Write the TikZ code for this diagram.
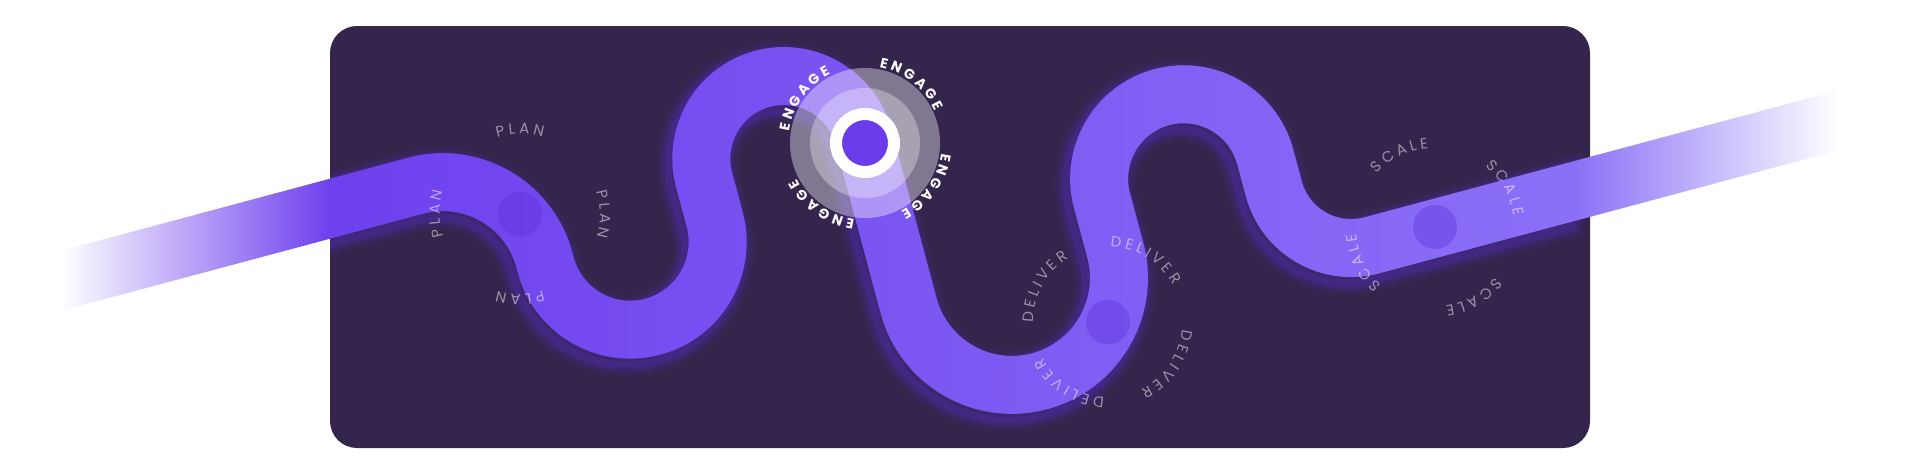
\documentclass[tikz,border=0pt]{standalone}
\usepackage{fontspec}
\setmainfont{Poppins}
\newfontfamily\tagfont{Poppins}
\usetikzlibrary{decorations.text}
\newcommand\plainlbl{\tagfont\fontsize{15}{17}\selectfont}
\newcommand\boldlbl{\tagfont\bfseries\fontsize{14}{16}\selectfont}
\newcommand\lgap{\kern3.5pt}
\newcommand\egap{\kern3.2pt}
\definecolor{panelc}{HTML}{33254C}
\definecolor{bandl}{HTML}{6E40EE}
\definecolor{bandm}{HTML}{7D5BF3}
\definecolor{bandr}{HTML}{8B70F7}
\definecolor{glowc}{HTML}{5B30D6}
\definecolor{dotc}{HTML}{5A2CD8}
\definecolor{engdot}{HTML}{6A3BE9}
\tikzset{
  stopdot/.style={circle, fill=dotc, fill opacity=.35, minimum size=44, inner sep=0},
  tagpath/.style={decorate, decoration={text along path, text align=center, text color=white}},
}
\begin{document}
\begin{tikzpicture}[x=1pt, y=1pt]
  \useasboundingbox (0,0) rectangle (1920,-475);
  % outline of the road, in a frame turned by 15 degrees round the engage point
  \def\bandpath{(-526,104) -- (-445,104) arc[start angle=90, end angle=0, radius=134]
    -- (-311,-35) arc[start angle=180, end angle=360, radius=58.5]
    -- (-194,6) arc[start angle=180, end angle=0, radius=111.5]
    -- (29,-168.3) arc[start angle=180, end angle=360, radius=78]
    -- (185,-117) arc[start angle=180, end angle=0, radius=113.5]
    -- (412,-150) arc[start angle=180, end angle=270, radius=51]
    -- (682.2,-201) -- (666.6,-259) -- (463,-259) arc[start angle=270, end angle=180, radius=109]
    -- (354,-117) arc[start angle=0, end angle=180, radius=55.5]
    -- (243,-168.3) arc[start angle=360, end angle=180, radius=136]
    -- (-29,6) arc[start angle=0, end angle=180, radius=53.5]
    -- (-136,-35) arc[start angle=360, end angle=180, radius=116.5]
    -- (-369,-30) arc[start angle=0, end angle=90, radius=76]
    -- (-541.5,46) -- cycle}
  \fill[panelc, rounded corners=27] (330,-26) rectangle (1590,-448);
  % glow
  \begin{scope}
    \clip[rounded corners=27] (330,-26) rectangle (1590,-448);
    \begin{scope}[shift={(861,-149)}, rotate=15]
      \foreach \w/\o in {22/.10, 14/.15, 7/.22}
        \draw[glowc, line width=\w, opacity=\o] \bandpath;
    \end{scope}
  \end{scope}
  % road and its faded ends
  \begin{scope}[shift={(865,-143)}, rotate=15]
    \shade[left color=white, middle color=bandl!30!white, right color=bandl]
      (-805.5,104) -- (-526,104) -- (-541.5,46) -- (-821,46) -- cycle;
    \shade[left color=bandr, middle color=bandr!35!white, right color=white]
      (682.2,-201) -- (955.4,-201) -- (939.9,-259) -- (666.6,-259) -- cycle;
    \shade[left color=bandl, middle color=bandm, right color=bandr] \bandpath;
  \end{scope}
  % stops
  \node[stopdot] (plan) at (520,-214) {};
  \node[stopdot] (deliver) at (1108,-322) {};
  \node[stopdot] (scale) at (1435,-227) {};
  % engage target
  \coordinate (engage) at (865,-143);
  \fill[white, opacity=.38] (engage) circle (75);
  \fill[white, opacity=.31] (engage) circle (55);
  \node[circle, draw=white, line width=12, fill=engdot, minimum size=58, inner sep=0] (engagedot) at (engage) {};
  % labels round the stops
  \begin{scope}[opacity=.5]
    \foreach \a in {90,0,-90,180}
      \path[tagpath, decoration={text={|\plainlbl|P{\lgap}L{\lgap}A{\lgap}N}}]
        ([shift={(\a+60:80)}]plan.center) arc[start angle=\a+60, end angle=\a-60, radius=80];
    \foreach \a in {151,59,-35,-122}
      \path[tagpath, decoration={text={|\plainlbl|D{\lgap}E{\lgap}L{\lgap}I{\lgap}V{\lgap}E{\lgap}R}}]
        ([shift={(\a+60:75)}]deliver.center) arc[start angle=\a+60, end angle=\a-60, radius=75];
    \foreach \a in {116,29,-61,-154}
      \path[tagpath, decoration={text={|\plainlbl|S{\lgap}C{\lgap}A{\lgap}L{\lgap}E}}]
        ([shift={(\a+60:79)}]scale.center) arc[start angle=\a+60, end angle=\a-60, radius=79];
  \end{scope}
  \foreach \a in {144,52,-35,-125}
    \path[tagpath, decoration={text={|\boldlbl|E{\egap}N{\egap}G{\egap}A{\egap}G{\egap}E}}]
      ([shift={(\a+60:77)}]engage) arc[start angle=\a+60, end angle=\a-60, radius=77];
\end{tikzpicture}
\end{document}
